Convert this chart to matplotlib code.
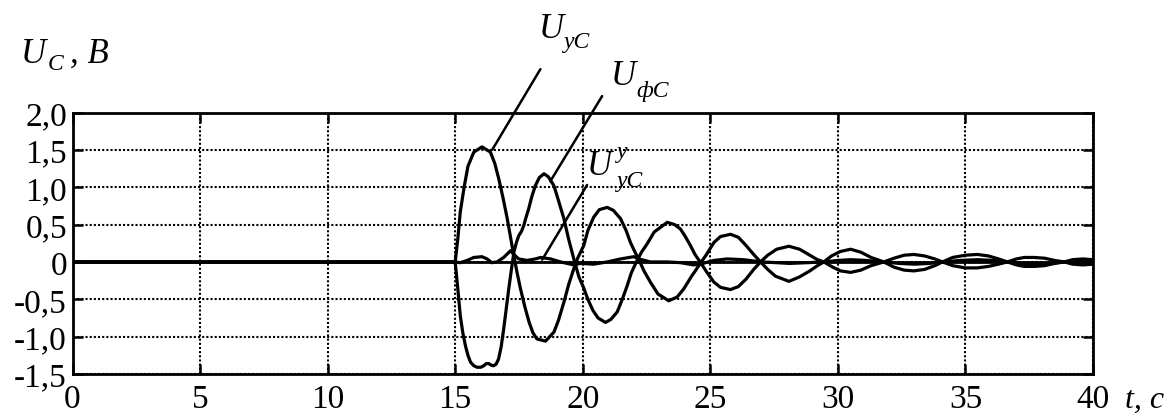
import matplotlib
matplotlib.use("Agg")
import matplotlib.pyplot as plt

plt.rcParams["font.family"] = ["Liberation Serif", "DejaVu Serif"]

# U_yC curve
t_uy = [0.0, 15.0, 15.1, 15.2, 15.35, 15.5, 15.73, 16.05, 16.38, 16.55, 16.71,
        16.88, 17.04, 17.17, 17.3, 17.43, 17.56, 17.73, 17.9, 18.05, 18.2,
        18.54, 18.87, 19.05, 19.26, 19.45, 19.65, 19.8, 20.04, 20.2, 20.43,
        20.65, 20.96, 21.2, 21.48, 21.7, 21.87, 22.05, 22.2, 22.4, 22.65,
        22.95, 23.37, 23.7, 23.96, 24.25, 24.45, 24.65, 24.85, 25.14, 25.4,
        25.79, 26.1, 26.4, 26.7, 26.97, 27.25, 27.55, 28.08, 28.5, 28.9,
        29.2, 29.45, 29.75, 30.1, 30.5, 30.9, 31.3, 31.8, 32.2, 32.6, 32.98,
        33.4, 33.8, 34.1, 34.5, 35.0, 35.47, 35.9, 36.3, 36.64, 37.0, 37.3,
        37.69, 38.1, 38.5, 38.87, 39.2, 39.6, 40.0]
u_uy = [0.0, 0.0, 0.3, 0.67, 1.0, 1.28, 1.47, 1.54, 1.47, 1.32, 1.11,
        0.85, 0.58, 0.33, 0.08, -0.15, -0.36, -0.6, -0.81, -0.95, -1.03,
        -1.06, -0.94, -0.78, -0.54, -0.3, -0.09, 0.05, 0.22, 0.42, 0.6,
        0.7, 0.73, 0.69, 0.58, 0.42, 0.26, 0.13, 0.03, -0.12, -0.27,
        -0.43, -0.52, -0.47, -0.36, -0.2, -0.1, 0.0, 0.1, 0.26, 0.34,
        0.37, 0.33, 0.22, 0.1, 0.0, -0.1, -0.19, -0.26, -0.2, -0.12,
        -0.05, 0.0, 0.08, 0.14, 0.17, 0.13, 0.06, 0.0, -0.07, -0.11, -0.12,
        -0.1, -0.05, 0.0, 0.06, 0.09, 0.1, 0.08, 0.04, 0.0, -0.04, -0.06,
        -0.06, -0.05, -0.02, 0.0, 0.03, 0.04, 0.03]

# U_фC curve
t_uf = [0.0, 15.0, 15.1, 15.2, 15.3, 15.4, 15.5, 15.6, 15.73, 15.86, 16.0,
        16.12, 16.22, 16.31, 16.4, 16.5, 16.6, 16.7, 16.8, 16.9, 17.0, 17.1,
        17.2, 17.3, 17.4, 17.49, 17.6, 17.69, 17.78, 17.88, 18.0, 18.14,
        18.3, 18.48, 18.65, 18.87, 19.05, 19.26, 19.45, 19.65, 19.85, 20.04,
        20.2, 20.4, 20.6, 20.89, 21.1, 21.35, 21.55, 21.74, 21.9, 22.1,
        22.3, 22.52, 22.8, 23.31, 23.6, 23.83, 24.02, 24.22, 24.4, 24.6,
        24.85, 25.14, 25.4, 25.79, 26.1, 26.4, 26.7, 26.97, 27.25, 27.6,
        28.08, 28.5, 28.9, 29.2, 29.45, 29.8, 30.1, 30.5, 30.9, 31.3, 31.8,
        32.2, 32.6, 32.98, 33.4, 33.8, 34.1, 34.5, 35.0, 35.47, 35.9, 36.3,
        36.64, 37.0, 37.3, 37.69, 38.1, 38.5, 38.87, 39.2, 39.6, 40.0]
u_uf = [0.0, 0.0, -0.35, -0.72, -0.95, -1.12, -1.25, -1.34, -1.39, -1.41, -1.41,
        -1.39, -1.36, -1.36, -1.38, -1.39, -1.37, -1.3, -1.14, -0.9, -0.63, -0.36,
        -0.11, 0.13, 0.26, 0.35, 0.41, 0.49, 0.6, 0.71, 0.87, 1.02,
        1.13, 1.18, 1.14, 1.02, 0.82, 0.58, 0.3, 0.04, -0.2, -0.35,
        -0.5, -0.65, -0.75, -0.81, -0.77, -0.67, -0.5, -0.32, -0.15, 0.0,
        0.13, 0.24, 0.4, 0.53, 0.5, 0.44, 0.34, 0.22, 0.1, 0.0,
        -0.13, -0.27, -0.34, -0.37, -0.33, -0.23, -0.1, 0.0, 0.09, 0.17,
        0.21, 0.17, 0.09, 0.03, 0.0, -0.07, -0.12, -0.14, -0.11, -0.05, 0.0,
        0.05, 0.09, 0.1, 0.08, 0.04, 0.0, -0.05, -0.08, -0.08, -0.06, -0.03,
        0.0, 0.04, 0.06, 0.06, 0.05, 0.02, 0.0, -0.03, -0.04, -0.03]

# U_yC^y curve
t_uyy = [0.0, 15.0, 15.2, 15.47, 15.73, 16.05, 16.25, 16.44, 16.64, 16.9,
         17.17, 17.3, 17.49, 17.82, 18.14, 18.35, 18.74, 19.13, 19.39, 19.65,
         19.9, 20.43, 20.96, 21.48, 22.0, 22.2, 22.65, 23.31, 23.83, 24.35,
         24.6, 25.14, 25.66, 26.3, 27.0, 27.6, 28.1, 28.8, 29.45, 30.0, 30.5,
         31.1, 31.8, 32.4, 33.0, 33.6, 34.1, 34.8, 35.47, 36.1, 36.64, 37.2,
         37.69, 38.3, 38.87, 39.4, 40.0]
u_uyy = [0.0, 0.0, -0.01, 0.02, 0.06, 0.07, 0.04, -0.01, 0.0, 0.06,
         0.15, 0.1, 0.04, 0.02, 0.04, 0.06, 0.04, 0.0, -0.02, -0.04,
         -0.02, -0.03, 0.0, 0.04, 0.07, 0.04, 0.0, 0.0, -0.01, -0.04,
         -0.03, 0.02, 0.04, 0.03, 0.0, -0.01, -0.02, -0.01, 0.0, 0.02, 0.03,
         0.02, 0.0, -0.02, -0.03, -0.02, 0.0, 0.02, 0.03, 0.02, 0.0, -0.02,
         -0.03, -0.02, 0.0, 0.02, 0.02]

x_ticks = [0, 5, 10, 15, 20, 25, 30, 35, 40]
y_ticks = [-1.5, -1.0, -0.5, 0.0, 0.5, 1.0, 1.5, 2.0]
y_labels = ["-1,5", "-1,0", "-0,5", "0", "0,5", "1,0", "1,5", "2,0"]

# leader lines: (point on curve, far end)
leaders = [((16.45, 1.5), (18.34, 2.58)),
           ((18.73, 1.08), (20.76, 2.22)),
           ((18.41, 0.03), (20.17, 1.03))]

W, H = 1175, 414
fig = plt.figure(figsize=(W / 100, H / 100), dpi=100)
ax = fig.add_axes([72.5 / W, 1 - 375 / H, (1093 - 72.5) / W, (375 - 113.5) / H])

for t, u in [(t_uy, u_uy), (t_uf, u_uf), (t_uyy, u_uyy)]:
    ax.plot(t, u, color="black", lw=2.3, solid_joinstyle="round", zorder=3)

ax.axhline(0, color="black", lw=2.0, zorder=2)
ax.set_xlim(0, 40)
ax.set_ylim(-1.5, 2.0)
ax.set_xticks(x_ticks)
ax.set_xticklabels([str(v) for v in x_ticks])
ax.set_yticks(y_ticks)
ax.set_yticklabels(y_labels)
ax.grid(True, color="black", lw=1.5, linestyle=(0, (1, 1)))
ax.tick_params(direction="in", length=7, width=1.8, top=True, right=True,
               labelsize=24, color="black")
ax.tick_params(axis="x", pad=7)
ax.tick_params(axis="y", pad=4)
for s in ax.spines.values():
    s.set_linewidth(2.0)

for p0, p1 in leaders:
    ax.annotate("", xy=p0, xytext=p1, annotation_clip=False,
                arrowprops=dict(arrowstyle="-", color="black", lw=1.8,
                                shrinkA=0, shrinkB=0))


def ftext(x, y, s, size, **kw):
    fig.text(x / W, 1 - y / H, s, fontsize=size, style="italic",
             va="baseline", ha="left", **kw)


# axis labels
ftext(21, 63, "U", 25)
ftext(48, 70, "C", 17)
ftext(70, 63, ", B", 25)
ftext(1125, 408, "t, с", 23)

# curve labels
ftext(539, 38, "U", 25)
ftext(564, 48, "уС", 17)
ftext(611, 85, "U", 25)
ftext(636, 97, "фС", 17)
ftext(587, 175, "U", 25)
ftext(617, 158, "у", 17)
ftext(617, 187, "уС", 17)

fig.savefig("out.png", dpi=100)
